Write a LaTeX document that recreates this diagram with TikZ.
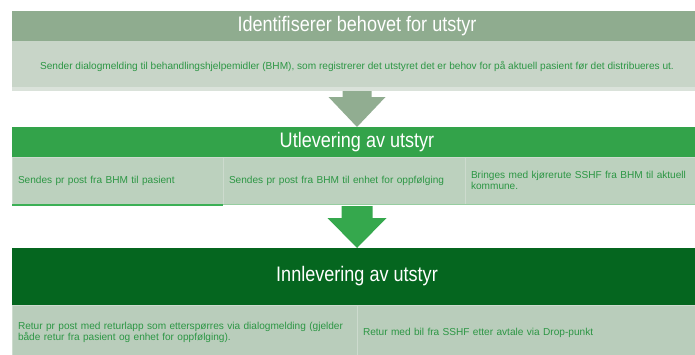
\documentclass[tikz,border=0pt]{standalone}
\usepackage{fontspec}
\setmainfont{Liberation Sans}
\newfontfamily\headfont[FakeStretch=0.86]{Liberation Sans}
\usetikzlibrary{positioning,calc}

\definecolor{greyhead}{RGB}{143,172,143}
\definecolor{greybody}{RGB}{200,213,200}
\definecolor{greystrip}{RGB}{218,226,218}
\definecolor{greyarrow}{RGB}{145,173,145}
\definecolor{greenhead}{RGB}{51,163,74}
\definecolor{greenbody}{RGB}{188,209,190}
\definecolor{greenline}{RGB}{60,176,86}
\definecolor{greenlight}{RGB}{150,205,160}
\definecolor{greenarrow}{RGB}{53,168,77}
\definecolor{darkhead}{RGB}{5,102,31}
\definecolor{darkbody}{RGB}{185,205,187}
\definecolor{txtgreen}{RGB}{44,150,68}
\definecolor{cellline}{RGB}{205,219,206}

\begin{document}
\begin{tikzpicture}[x=1pt,y=-1pt,
    head/.style={anchor=north west, minimum width=690, inner sep=0, outer sep=0,
        text=white, font=\headfont\fontsize{21}{25}\selectfont},
    cell/.style={anchor=north west, inner xsep=6, inner ysep=0, outer sep=0,
        align=left, text=txtgreen, draw=cellline, line width=0.6,
        font=\fontsize{10.1}{11.5}\selectfont}]
\clip (0,0) rectangle (695,354);

% identifisering
\node[head, fill=greyhead, minimum height=30] (hdrA) at (12,11) {Identifiserer behovet for utstyr};
\node[anchor=north west, fill=greybody, minimum width=690, minimum height=50, inner sep=0, outer sep=0,
    text=txtgreen, font=\fontsize{10.1}{11.5}\selectfont] (behov) at (12,41)
    {Sender dialogmelding til behandlingshjelpemidler (BHM), som registrerer det utstyret det er behov for på aktuell pasient før det distribueres ut.\hspace{12pt}};
\fill[greystrip] ([yshift=4pt]behov.south west) rectangle (behov.south east);

% utlevering
\node[head, fill=greenhead, minimum height=30] (hdrB) at (12,127) {Utlevering av utstyr};
\node[cell, fill=greenbody, text width=199, minimum height=47] (utl1) at (12,157) {Sendes pr post fra BHM til pasient};
\node[cell, fill=greenbody, text width=230, minimum height=47, right=0pt of utl1] (utl2) {Sendes pr post fra BHM til enhet for oppfølging};
\node[cell, fill=greenbody, text width=225, minimum height=47, right=0pt of utl2] (utl3) {Bringes med kjørerute SSHF fra BHM til aktuell\\kommune.};
\draw[greenlight, line width=1pt] ([yshift=-0.5pt]utl2.south west) -- ([yshift=-0.5pt]utl3.south east);
\draw[greenline, line width=2pt] ([yshift=-1pt]utl1.south west) -- ([yshift=-1pt]utl1.south east);
\coordinate (utlbot) at ($(hdrB.south |- utl2.south)+(0,2)$);

% innlevering
\node[head, fill=darkhead, minimum height=57] (hdrC) at (12,248) {Innlevering av utstyr};
\node[cell, fill=darkbody, text width=333, minimum height=55] (inn1) at (12,305) {Retur pr post med returlapp som etterspørres via dialogmelding (gjelder\\både retur fra pasient og enhet for oppfølging).};
\node[cell, fill=darkbody, text width=333, minimum height=55, right=0pt of inn1] (inn2) {Retur med bil fra SSHF etter avtale via Drop-punkt};

% piler
\fill[greyarrow] ([xshift=-14.5pt]behov.south) -- ([xshift=-14.5pt,yshift=-6pt]behov.south)
    -- ([xshift=-28.5pt,yshift=-6pt]behov.south) -- (hdrB.north)
    -- ([xshift=28.5pt,yshift=-6pt]behov.south) -- ([xshift=14.5pt,yshift=-6pt]behov.south)
    -- ([xshift=14.5pt]behov.south) -- cycle;
\fill[greenarrow] ([xshift=-15.5pt]utlbot) -- ([xshift=-15.5pt,yshift=-12pt]utlbot)
    -- ([xshift=-29.5pt,yshift=-12pt]utlbot) -- (hdrC.north)
    -- ([xshift=29.5pt,yshift=-12pt]utlbot) -- ([xshift=15.5pt,yshift=-12pt]utlbot)
    -- ([xshift=15.5pt]utlbot) -- cycle;
\end{tikzpicture}
\end{document}
